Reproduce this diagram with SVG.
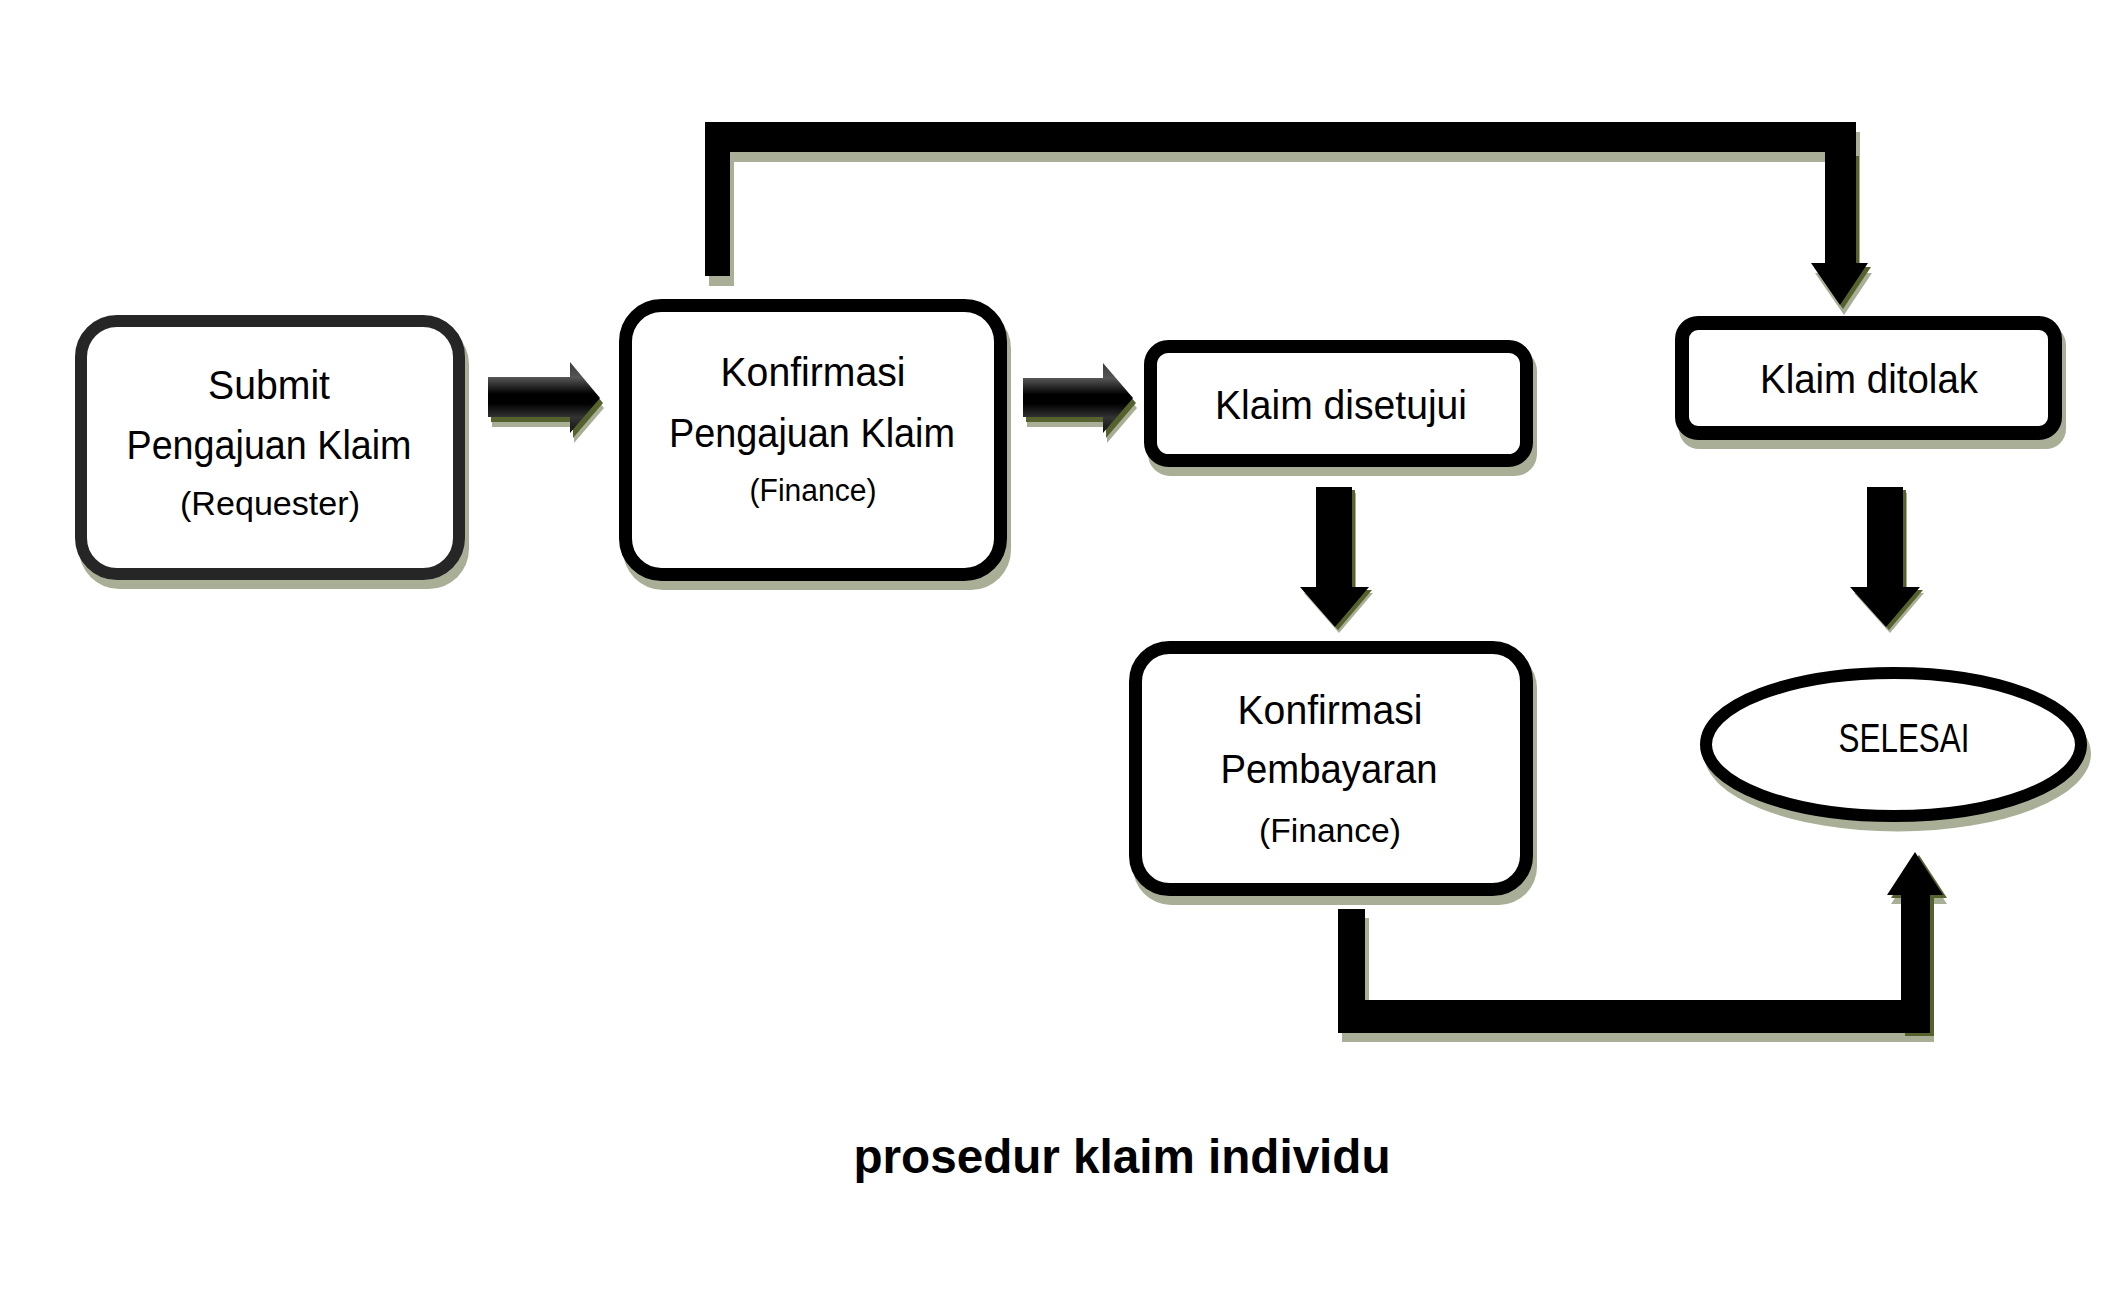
<svg xmlns="http://www.w3.org/2000/svg" width="2113" height="1301" viewBox="0 0 2113 1301">
<defs>
<linearGradient id="hgrad" x1="0" y1="0" x2="0" y2="1">
<stop offset="0" stop-color="#3c3c3c"/>
<stop offset="0.22" stop-color="#555555"/>
<stop offset="0.45" stop-color="#000000"/>
<stop offset="0.58" stop-color="#000000"/>
<stop offset="0.78" stop-color="#333333"/>
<stop offset="1" stop-color="#111111"/>
</linearGradient>
</defs>
<style>
.bg{fill:#ffffff}
.sh{fill:#a9af97}
.shd{fill:#56622e}
.box{fill:#ffffff;stroke:#000000}
.t{font-family:"Liberation Sans",Arial,sans-serif;font-size:40px;fill:#000000;text-anchor:middle}
.ts{font-size:33px}
.title{font-family:"Liberation Sans",Arial,sans-serif;font-size:48px;font-weight:bold;fill:#000000;text-anchor:middle}
.blk{fill:#000000}
.grd{fill:url(#hgrad)}
</style>
<rect class="bg" x="0" y="0" width="2113" height="1301"/>

<g id="connectors">
  <g transform="translate(4,10)"><path class="sh" d="M705,276 L705,122 L1856,122 L1856,263 L1868,263 L1840,305 L1811,263 L1825,263 L1825,152 L730,152 L730,276 Z"/></g>
  <g transform="translate(3,4)"><path class="shd" d="M1825,152 L1856,152 L1856,263 L1868,263 L1840,305 L1811,263 L1825,263 Z"/></g>
  <path class="blk" d="M705,276 L705,122 L1856,122 L1856,263 L1868,263 L1840,305 L1811,263 L1825,263 L1825,152 L730,152 L730,276 Z"/>

  <g transform="translate(4,10)"><polygon class="sh" points="488,377 570,377 570,362 600,398 570,433 570,417 488,417"/></g>
  <g transform="translate(3,5)"><polygon class="shd" points="488,377 570,377 570,362 600,398 570,433 570,417 488,417"/></g>
  <polygon class="grd" points="488,377 570,377 570,362 600,398 570,433 570,417 488,417"/>

  <g transform="translate(4,10)"><polygon class="sh" points="1023,378 1103,378 1103,363 1133,398 1103,433 1103,417 1023,417"/></g>
  <g transform="translate(3,5)"><polygon class="shd" points="1023,378 1103,378 1103,363 1133,398 1103,433 1103,417 1023,417"/></g>
  <polygon class="grd" points="1023,378 1103,378 1103,363 1133,398 1103,433 1103,417 1023,417"/>

  <g transform="translate(4,6)"><polygon class="sh" points="1316,487 1352,487 1352,587 1369,587 1335,627 1300,587 1316,587"/></g>
  <g transform="translate(3,3)"><polygon class="shd" points="1316,487 1352,487 1352,587 1369,587 1335,627 1300,587 1316,587"/></g>
  <polygon class="blk" points="1316,487 1352,487 1352,587 1369,587 1335,627 1300,587 1316,587"/>

  <g transform="translate(4,6)"><polygon class="sh" points="1867,487 1903,487 1903,587 1920,587 1886,627 1850,587 1867,587"/></g>
  <g transform="translate(3,3)"><polygon class="shd" points="1867,487 1903,487 1903,587 1920,587 1886,627 1850,587 1867,587"/></g>
  <polygon class="blk" points="1867,487 1903,487 1903,587 1920,587 1886,627 1850,587 1867,587"/>

  <g transform="translate(4,9)"><path class="sh" d="M1338,909 L1365,909 L1365,1000 L1901,1000 L1901,895 L1887,895 L1915,852 L1943,895 L1930,895 L1930,1033 L1338,1033 Z"/></g>
  <g transform="translate(4,3)"><path class="shd" d="M1901,895 L1887,895 L1915,852 L1943,895 L1930,895 L1930,1033 L1901,1033 Z"/></g>
  <path class="blk" d="M1338,909 L1365,909 L1365,1000 L1901,1000 L1901,895 L1887,895 L1915,852 L1943,895 L1930,895 L1930,1033 L1338,1033 Z"/>
</g>

<g id="node-submit">
  <rect class="sh" x="79" y="324" width="390" height="265" rx="40"/>
  <rect class="box" x="81" y="321" width="378" height="253" rx="36" stroke-width="12" style="stroke:#262626"/>
  <text class="t" x="269" y="399" textLength="122" lengthAdjust="spacingAndGlyphs">Submit</text>
  <text class="t" x="269" y="459" textLength="285" lengthAdjust="spacingAndGlyphs">Pengajuan Klaim</text>
  <text class="t ts" x="270" y="515" textLength="180" lengthAdjust="spacingAndGlyphs">(Requester)</text>
</g>

<g id="node-konfirmasi-pengajuan">
  <rect class="sh" x="623" y="308" width="388" height="282" rx="40"/>
  <rect class="box" x="625.5" y="305.5" width="375" height="269" rx="36" stroke-width="13"/>
  <text class="t" x="813" y="386" textLength="185" lengthAdjust="spacingAndGlyphs">Konfirmasi</text>
  <text class="t" x="812" y="447" textLength="286" lengthAdjust="spacingAndGlyphs">Pengajuan Klaim</text>
  <text class="t" x="813" y="501" style="font-size:31px" textLength="127" lengthAdjust="spacingAndGlyphs">(Finance)</text>
</g>

<g id="node-disetujui">
  <rect class="sh" x="1148" y="349" width="389" height="127" rx="22"/>
  <rect class="box" x="1150.5" y="346.5" width="376" height="114" rx="18" stroke-width="13"/>
  <text class="t" x="1341" y="419" textLength="252" lengthAdjust="spacingAndGlyphs">Klaim disetujui</text>
</g>

<g id="node-ditolak">
  <rect class="sh" x="1679" y="325" width="387" height="124" rx="20"/>
  <rect class="box" x="1682" y="323" width="373" height="110" rx="16" stroke-width="14"/>
  <text class="t" x="1869" y="393" textLength="218" lengthAdjust="spacingAndGlyphs">Klaim ditolak</text>
</g>

<g id="node-konfirmasi-pembayaran">
  <rect class="sh" x="1133" y="650" width="404" height="255" rx="38"/>
  <rect class="box" x="1135.5" y="647.5" width="391" height="242" rx="34" stroke-width="13"/>
  <text class="t" x="1330" y="724" textLength="185" lengthAdjust="spacingAndGlyphs">Konfirmasi</text>
  <text class="t" x="1329" y="783" textLength="217" lengthAdjust="spacingAndGlyphs">Pembayaran</text>
  <text class="t" x="1330" y="842" style="font-size:34px" textLength="142" lengthAdjust="spacingAndGlyphs">(Finance)</text>
</g>

<g id="node-selesai">
  <ellipse class="sh" cx="1897.5" cy="754" rx="193.5" ry="77.5"/>
  <ellipse class="box" cx="1893.5" cy="744.5" rx="187.5" ry="71.5" stroke-width="12"/>
  <text class="t" x="1904" y="752" textLength="131" lengthAdjust="spacingAndGlyphs">SELESAI</text>
</g>

<g id="caption">
  <text class="title" x="1122" y="1173" textLength="537" lengthAdjust="spacingAndGlyphs">prosedur klaim individu</text>
</g>
</svg>
